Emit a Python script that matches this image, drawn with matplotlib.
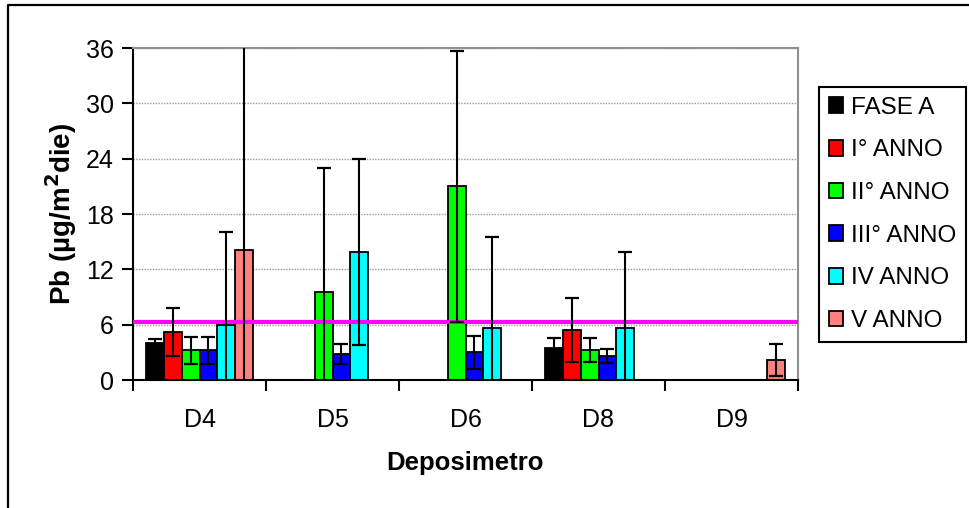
import numpy as np
import matplotlib
matplotlib.use("Agg")
import matplotlib.pyplot as plt
from matplotlib.lines import Line2D

plt.rcParams['font.family'] = ['Liberation Sans', 'DejaVu Sans']

# data
stations = ['D4', 'D5', 'D6', 'D8', 'D9']
series = ['FASE A', 'I° ANNO', 'II° ANNO', 'III° ANNO', 'IV ANNO', 'V ANNO']
colors = ['#000000', '#ff0000', '#00ff00', '#0000ff', '#00ffff', '#ff8080']
nan = np.nan
fase_a = [4.0, nan, nan, 3.5, nan]
anno_1 = [5.2, nan, nan, 5.4, nan]
anno_2 = [3.2, 9.5, 21.0, 3.25, nan]
anno_3 = [3.2, 2.8, 3.0, 2.6, nan]
anno_4 = [6.0, 13.85, 5.65, 5.65, nan]
anno_5 = [14.05, nan, nan, nan, 2.15]
err_fase_a = [0.5, nan, nan, 1.05, nan]
err_anno_1 = [2.6, nan, nan, 3.5, nan]
err_anno_2 = [1.5, 13.5, 14.7, 1.3, nan]
err_anno_3 = [1.5, 1.05, 1.8, 0.75, nan]
err_anno_4 = [10.0, 10.1, 9.9, 8.2, nan]
err_anno_5 = [25.0, nan, nan, nan, 1.7]
limit = 6.3

values = [fase_a, anno_1, anno_2, anno_3, anno_4, anno_5]
errors = [err_fase_a, err_anno_1, err_anno_2, err_anno_3, err_anno_4, err_anno_5]

fig = plt.figure(figsize=(9.69, 5.08), dpi=100)
ax = fig.add_axes([133/969, 1-380/508, 665/969, 332/508])

x = np.arange(len(stations))
w = 1/7.5
for i, (vals, errs) in enumerate(zip(values, errors)):
    pos = x + (i - 2.5)*w
    v = np.array(vals, dtype=float)
    ok = ~np.isnan(v)
    ax.bar(pos[ok], v[ok], w, color=colors[i], edgecolor='black',
           linewidth=1.3, label=series[i], zorder=2)
    ax.errorbar(pos[ok], v[ok], yerr=np.array(errs)[ok], fmt='none',
                ecolor='black', elinewidth=1.5, capsize=5, capthick=1.6, zorder=4)

ax.axhline(limit, color='#ff00ff', linewidth=3, zorder=3)

ax.set_xlim(-0.5, len(stations)-0.5)
ax.set_ylim(0, 36)
ax.set_yticks(np.arange(0, 37, 6))
ax.set_xticks(np.arange(len(stations)+1) - 0.5)
ax.set_xticklabels([])
ax.set_xticks(x, minor=True)
ax.set_xticklabels(stations, minor=True)
ax.tick_params(axis='x', which='minor', length=0, pad=20, labelsize=18)
ax.tick_params(axis='x', which='major', length=8, width=1.5, direction='out')
ax.tick_params(axis='y', length=8, width=1.5, direction='out', labelsize=18, pad=6)
ax.yaxis.grid(True, color='#999999', linestyle=(0, (1, 1)), linewidth=1)
ax.set_axisbelow(True)
for s in ['top', 'right']:
    ax.spines[s].set_color('#909090')
    ax.spines[s].set_linewidth(1.5)
for s in ['left', 'bottom']:
    ax.spines[s].set_linewidth(1.5)

ax.set_xlabel('Deposimetro', fontsize=18.5, fontweight='bold', labelpad=14)
ax.set_ylabel('Pb (µg/m$^{\\mathbf{2}}$die)', fontsize=20, fontweight='bold', labelpad=5)

leg = fig.legend(loc='upper left', bbox_to_anchor=(819/969, 1-87/508),
                 fontsize=17.5, frameon=True, fancybox=False, framealpha=1,
                 edgecolor='black', handlelength=0.6, handleheight=0.6,
                 handletextpad=0.3, labelspacing=0.85, borderpad=0.4,
                 borderaxespad=0)
leg.get_frame().set_linewidth(1.5)

# outer chart frame (cropped)
fig.add_artist(Line2D([8/969, 8/969, 1.0], [0.0, 1-5/508, 1-5/508],
                      transform=fig.transFigure, color='black', linewidth=1.6))

fig.savefig('out.png', dpi=100)
